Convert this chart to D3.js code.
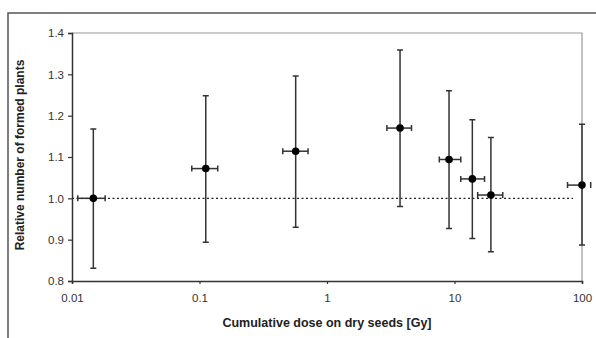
<!DOCTYPE html>
<html>
<head>
<meta charset="utf-8">
<script src="https://cdn.jsdelivr.net/npm/d3@7"></script>
<style>
  body { margin: 0; background: #fff; }
  text { font-family: Arial, "Liberation Sans", sans-serif; }
</style>
</head>
<body>
<div id="chart"></div>
<script>
// dose [Gy], relative number of formed plants, and error limits
const dose = [0.0147, 0.112, 0.568, 3.74, 9.06, 13.8, 19.3, 100]
const relPlants = [1.0, 1.072, 1.114, 1.17, 1.094, 1.047, 1.008, 1.032]
const yUpper = [1.168, 1.248, 1.296, 1.359, 1.26, 1.19, 1.147, 1.179]
const yLower = [0.831, 0.894, 0.93, 0.98, 0.927, 0.903, 0.871, 0.887]
const doseLow = [0.0111, 0.087, 0.45, 2.95, 7.6, 11.2, 15.2, 77]
const doseHigh = [0.0182, 0.139, 0.71, 4.6, 11.2, 17.2, 23.9, 117]
const xTicks = [0.01, 0.1, 1, 10, 100]
const yTicks = [0.8, 0.9, 1.0, 1.1, 1.2, 1.3, 1.4]
const refLine = { y: 1.0, from: 0.01, to: 85 }

const width = 596, height = 338
const margin = { top: 33, right: 14, bottom: 57, left: 72 }
const w = width - margin.left - margin.right
const h = height - margin.top - margin.bottom

const svg = d3.select('#chart').append('svg')
  .attr('width', width)
  .attr('height', height)

// outer chart frame (cropped at right and bottom)
svg.append('path')
  .attr('d', 'M8,' + (height + 2) + 'V13H' + (width + 2))
  .attr('fill', 'none')
  .attr('stroke', '#555')
  .attr('stroke-width', 1.5)

const g = svg.append('g')
  .attr('transform', 'translate(' + margin.left + ',' + margin.top + ')')

const x = d3.scaleLog().domain([0.01, 100]).range([0, w])
const y = d3.scaleLinear().domain([0.8, 1.4]).range([h, 0])

// plot area border, top and right
g.append('path')
  .attr('d', 'M0,0H' + w + 'V' + h)
  .attr('fill', 'none')
  .attr('stroke', '#999')
  .attr('stroke-width', 1.2)

// reference line at 1.0
g.append('line')
  .attr('x1', x(refLine.from))
  .attr('x2', x(refLine.to))
  .attr('y1', y(refLine.y))
  .attr('y2', y(refLine.y))
  .attr('stroke', '#222')
  .attr('stroke-width', 1.2)
  .attr('stroke-dasharray', '2,2.5')

// axes
const yAxis = g.append('g')
  .call(d3.axisLeft(y).tickValues(yTicks).tickFormat(d3.format('.1f')).tickSize(4).tickPadding(4))
const xAxis = g.append('g')
  .attr('transform', 'translate(0,' + h + ')')
  .call(d3.axisBottom(x).tickValues(xTicks).tickFormat(d => d3.format('~g')(d)).tickSize(3).tickPadding(10))

;[yAxis, xAxis].forEach(a => {
  a.select('.domain').attr('stroke', '#333').attr('stroke-width', 1.5)
  a.selectAll('.tick line').attr('stroke', '#333').attr('stroke-width', 1.2)
  a.selectAll('text').attr('font-size', 11.5).attr('fill', '#333')
})
yAxis.selectAll('.tick line').attr('x2', -4).attr('x1', 1)

const errColor = '#333'
const capV = 3, capH = 3

const pts = g.selectAll('g.pt')
  .data(dose.map((d, i) => ({ d, v: relPlants[i], up: yUpper[i], lo: yLower[i], xl: doseLow[i], xh: doseHigh[i] })))
  .enter()
  .append('g')
  .attr('class', 'pt')

// vertical error bars
pts.append('line')
  .attr('x1', p => x(p.d)).attr('x2', p => x(p.d))
  .attr('y1', p => y(p.up)).attr('y2', p => y(p.lo))
  .attr('stroke', errColor).attr('stroke-width', 1.5)
pts.append('path')
  .attr('d', p => 'M' + (x(p.d) - capV) + ',' + y(p.up) + 'h' + 2 * capV +
    'M' + (x(p.d) - capV) + ',' + y(p.lo) + 'h' + 2 * capV)
  .attr('stroke', errColor).attr('stroke-width', 1.5)

// horizontal error bars (clipped at the plot edge like the original)
pts.append('line')
  .attr('x1', p => x(p.xl)).attr('x2', p => Math.min(x(p.xh), w))
  .attr('y1', p => y(p.v)).attr('y2', p => y(p.v))
  .attr('stroke', errColor).attr('stroke-width', 1.5)
pts.append('path')
  .attr('d', p => 'M' + x(p.xl) + ',' + (y(p.v) - capH) + 'v' + 2 * capH +
    'M' + x(p.xh) + ',' + (y(p.v) - capH) + 'v' + 2 * capH)
  .attr('stroke', errColor).attr('stroke-width', 1.5)

// markers
pts.append('circle')
  .attr('cx', p => x(p.d))
  .attr('cy', p => y(p.v))
  .attr('r', 3.8)
  .attr('fill', '#000')

// axis titles
svg.append('text')
  .attr('x', 327)
  .attr('y', 327)
  .attr('text-anchor', 'middle')
  .attr('font-size', 12.5)
  .attr('font-weight', 'bold')
  .attr('fill', '#222')
  .text('Cumulative dose on dry seeds [Gy]')

svg.append('text')
  .attr('transform', 'translate(24,155) rotate(-90)')
  .attr('text-anchor', 'middle')
  .attr('font-size', 12)
  .attr('font-weight', 'bold')
  .attr('fill', '#222')
  .text('Relative number of formed plants')
</script>
</body>
</html>
